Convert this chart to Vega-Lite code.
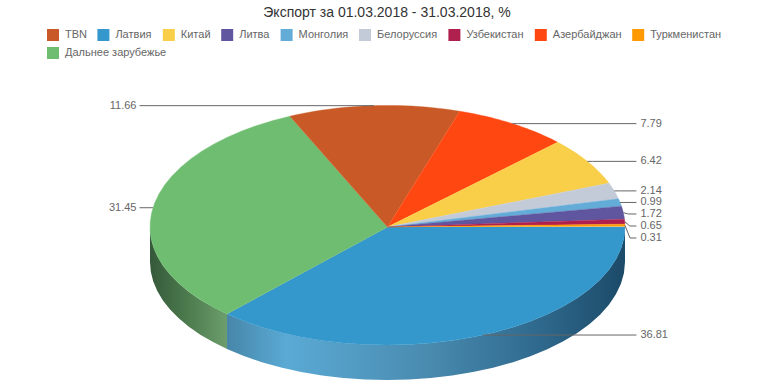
{"$schema":"https://vega.github.io/schema/vega-lite/v6.json","width":774,"height":387,"autosize":"none","padding":0,"background":"white","title":{"text":"Экспорт за 01.03.2018 - 31.03.2018, %","anchor":"middle","frame":"group","offset":-16,"font":"Liberation Sans","fontSize":14,"fontWeight":"normal","color":"#333333","dy":4},"config":{"view":{"stroke":null}},"data":{"values":[{"name":"Латвия","value":36.81},{"name":"Дальнее зарубежье","value":31.45},{"name":"TBN","value":11.66},{"name":"Азербайджан","value":7.79},{"name":"Китай","value":6.42},{"name":"Белоруссия","value":2.14},{"name":"Монголия","value":0.99},{"name":"Литва","value":1.72},{"name":"Узбекистан","value":0.65},{"name":"Туркменистан","value":0.31}]},"transform":[{"window":[{"op":"sum","field":"value","as":"cum"},{"op":"row_number","as":"rank"}],"frame":[null,0],"ignorePeers":true},{"calculate":"90+(datum.cum-datum.value)*3.6","as":"start"},{"calculate":"90+datum.cum*3.6","as":"end"},{"calculate":"(datum.start+datum.end)/2","as":"mid"},{"calculate":"sin(datum.mid*PI/180)","as":"px"},{"calculate":"cos(datum.mid*PI/180)>0?cos(datum.mid*PI/180)*1.03:cos(datum.mid*PI/180)","as":"py"},{"calculate":"datum.mid>420&&datum.mid<450?min(datum.py,-0.0932-(datum.rank-10)*0.1017):datum.py","as":"labelY"},{"calculate":"datum.px>0?1:-1","as":"side"},{"calculate":"datum.side>0?1.065:-1.057","as":"labelX"},{"calculate":"datum.side>0?1.048:-1.044","as":"endX"}],"layer":[{"transform":[{"filter":"datum.name==='Латвия'"},{"calculate":"[0,0.04,0.08,0.12,0.16,0.2,0.24,0.28,0.32,0.36,0.4,0.44,0.48,0.52,0.56,0.6,0.64,0.68,0.72,0.76,0.8,0.84,0.88,0.92,0.96,1]","as":"step"},{"flatten":["step"]},{"calculate":"sin((datum.start+datum.step*(datum.end-datum.start))*PI/180)","as":"x"},{"calculate":"cos((datum.start+datum.step*(datum.end-datum.start))*PI/180)","as":"y"},{"calculate":"datum.y-0.2966","as":"yb"}],"mark":{"type":"area","color":{"gradient":"linear","x1":0,"x2":1,"y1":0,"y2":0,"stops":[{"offset":0,"color":"#4786a9"},{"offset":0.15,"color":"#5aaad5"},{"offset":0.5,"color":"#4a8bb0"},{"offset":0.78,"color":"#2f6a8e"},{"offset":1,"color":"#1c4a68"}]}},"encoding":{"x":{"field":"x","type":"quantitative","scale":{"domain":[-1.6316,1.6274],"nice":false,"zero":false},"axis":null},"y":{"field":"y","type":"quantitative","scale":{"domain":[-1.3559,1.9237],"nice":false,"zero":false},"axis":null},"y2":{"field":"yb"}}},{"transform":[{"filter":"datum.name==='Дальнее зарубежье'"},{"calculate":"[0,0.1,0.2,0.3,0.4,0.5,0.6,0.7,0.8,0.9,1]","as":"step"},{"flatten":["step"]},{"calculate":"sin((datum.start+datum.step*(270-datum.start))*PI/180)","as":"x"},{"calculate":"cos((datum.start+datum.step*(270-datum.start))*PI/180)","as":"y"},{"calculate":"datum.y-0.2966","as":"yb"}],"mark":{"type":"area","color":{"gradient":"linear","x1":0,"x2":1,"y1":0,"y2":0,"stops":[{"offset":0,"color":"#35593a"},{"offset":0.5,"color":"#4d7c4e"},{"offset":1,"color":"#6c9d6c"}]}},"encoding":{"x":{"field":"x","type":"quantitative","scale":{"domain":[-1.6316,1.6274],"nice":false,"zero":false},"axis":null},"y":{"field":"y","type":"quantitative","scale":{"domain":[-1.3559,1.9237],"nice":false,"zero":false},"axis":null},"y2":{"field":"yb"}}},{"transform":[{"calculate":"[-1,0,0.04,0.08,0.12,0.16,0.2,0.24,0.28,0.32,0.36,0.4,0.44,0.48,0.52,0.56,0.6,0.64,0.68,0.72,0.76,0.8,0.84,0.88,0.92,0.96,1]","as":"step"},{"flatten":["step"]},{"calculate":"(datum.start+datum.step*(datum.end-datum.start))*PI/180","as":"a"},{"calculate":"datum.step<0?0:sin(datum.a)","as":"x"},{"calculate":"datum.step<0?0:(cos(datum.a)>0?cos(datum.a)*1.03:cos(datum.a))","as":"y"}],"mark":{"type":"line","filled":true,"strokeWidth":0.4},"encoding":{"x":{"field":"x","type":"quantitative","scale":{"domain":[-1.6316,1.6274],"nice":false,"zero":false},"axis":null},"y":{"field":"y","type":"quantitative","scale":{"domain":[-1.3559,1.9237],"nice":false,"zero":false},"axis":null},"order":{"field":"step","type":"quantitative"},"fill":{"field":"name","type":"nominal","scale":{"domain":["TBN","Латвия","Китай","Литва","Монголия","Белоруссия","Узбекистан","Азербайджан","Туркменистан","Дальнее зарубежье"],"range":["#c95a27","#3498cc","#f9cf4a","#60559f","#64acd8","#c3cbd9","#b0204f","#ff4811","#ff9900","#6fbd71"]},"legend":{"title":null,"orient":"none","legendX":47,"legendY":29,"direction":"horizontal","columns":9,"values":["TBN","Латвия","Китай","Литва","Монголия","Белоруссия","Узбекистан","Азербайджан","Туркменистан"],"columnPadding":10.4,"symbolType":"square","symbolSize":144,"symbolStrokeWidth":0,"labelOffset":6,"labelFont":"Liberation Sans","labelFontSize":11,"labelColor":"#666666"}},"stroke":{"field":"name","type":"nominal","scale":{"domain":["Дальнее зарубежье","TBN","Латвия","Китай","Литва","Монголия","Белоруссия","Узбекистан","Азербайджан","Туркменистан"],"range":["#6fbd71","#c95a27","#3498cc","#f9cf4a","#60559f","#64acd8","#c3cbd9","#b0204f","#ff4811","#ff9900"]},"legend":{"title":null,"orient":"none","legendX":47,"legendY":47,"direction":"horizontal","values":["Дальнее зарубежье"],"symbolType":"square","symbolSize":144,"symbolStrokeWidth":0,"symbolFillColor":"#6fbd71","labelOffset":6,"labelFont":"Liberation Sans","labelFontSize":11,"labelColor":"#666666"}}}},{"transform":[{"calculate":"[0,1,2]","as":"pt"},{"flatten":["pt"]},{"calculate":"datum.pt===0?datum.px:(datum.pt===1?datum.px+datum.side*0.021:datum.endX)","as":"lx"},{"calculate":"datum.pt===0?datum.py:datum.labelY","as":"ly"}],"mark":{"type":"line","stroke":"#666666","strokeWidth":1},"encoding":{"x":{"field":"lx","type":"quantitative","scale":{"domain":[-1.6316,1.6274],"nice":false,"zero":false},"axis":null},"y":{"field":"ly","type":"quantitative","scale":{"domain":[-1.3559,1.9237],"nice":false,"zero":false},"axis":null},"detail":{"field":"name"},"order":{"field":"pt","type":"quantitative"}}},{"transform":[{"filter":"datum.side>0"}],"mark":{"type":"text","align":"left","baseline":"middle","font":"Liberation Sans","fontSize":11,"color":"#666666"},"encoding":{"x":{"field":"labelX","type":"quantitative","scale":{"domain":[-1.6316,1.6274],"nice":false,"zero":false},"axis":null},"y":{"field":"labelY","type":"quantitative","scale":{"domain":[-1.3559,1.9237],"nice":false,"zero":false},"axis":null},"text":{"field":"value","type":"quantitative","format":".2f"}}},{"transform":[{"filter":"datum.side<0"}],"mark":{"type":"text","align":"right","baseline":"middle","font":"Liberation Sans","fontSize":11,"color":"#666666"},"encoding":{"x":{"field":"labelX","type":"quantitative","scale":{"domain":[-1.6316,1.6274],"nice":false,"zero":false},"axis":null},"y":{"field":"labelY","type":"quantitative","scale":{"domain":[-1.3559,1.9237],"nice":false,"zero":false},"axis":null},"text":{"field":"value","type":"quantitative","format":".2f"}}}]}
